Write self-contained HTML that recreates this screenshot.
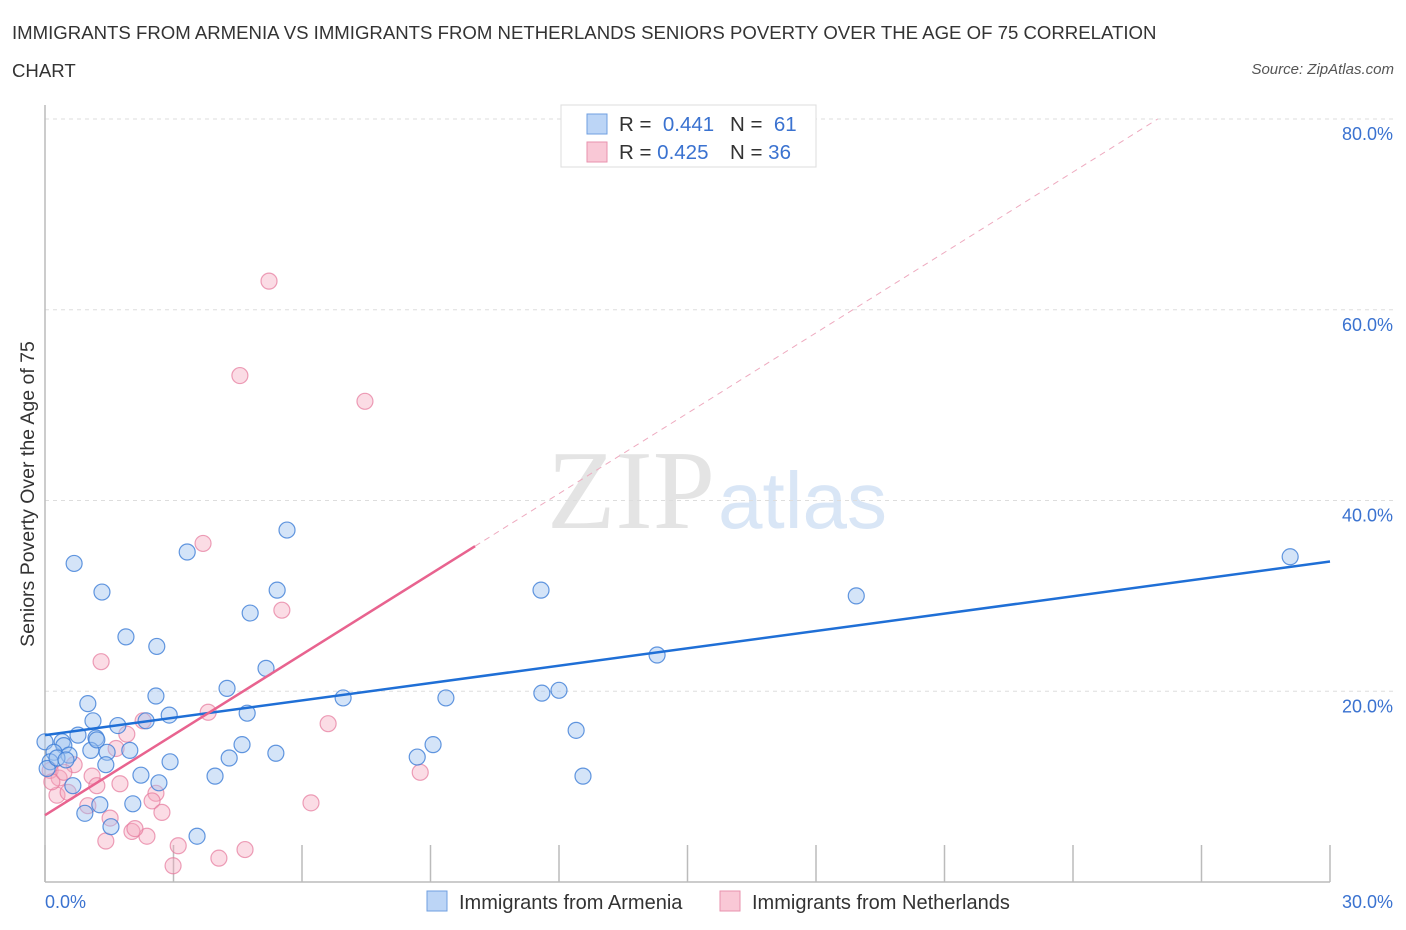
<!DOCTYPE html>
<html><head><meta charset="utf-8">
<style>
body{margin:0;background:#fff;font-family:"Liberation Sans",sans-serif;}
#wrap{position:relative;width:1406px;height:930px;overflow:hidden;}
.t{position:absolute;white-space:nowrap;}
</style></head>
<body>
<div id="wrap">
<div class="t" style="left:12px;top:14px;font-size:18.6px;color:#333;line-height:38px;width:1145px;white-space:normal;">IMMIGRANTS FROM ARMENIA VS IMMIGRANTS FROM NETHERLANDS SENIORS POVERTY OVER THE AGE OF 75 CORRELATION CHART</div>
<div class="t" style="right:12px;top:61px;font-size:15px;color:#555;font-style:italic;">Source: ZipAtlas.com</div>
<svg id="svg" width="1406" height="930" style="position:absolute;left:0;top:0"></svg>
</div>
<script>
const blueX=[0.68,1.33,3.32,5.65,5.42,4.79,1.89,2.61,5.16,4.25,2.59,1.00,2.90,4.72,1.12,2.36,1.70,0.77,1.19,0.0,0.40,1.98,1.45,1.07,0.44,0.21,0.56,0.12,4.60,4.30,5.39,2.92,1.42,2.24,3.97,0.65,1.28,2.05,0.93,1.54,3.55,2.66,6.96,9.36,8.69,9.06,11.58,11.60,12.00,12.40,12.56,14.29,18.94,29.07,0.05,0.28,0.49,1.21];
const blueY=[33.4,30.4,34.6,36.9,30.6,28.2,25.7,24.7,22.4,20.3,19.5,18.7,17.5,17.7,16.9,16.9,16.4,15.4,15.1,14.7,14.7,13.8,13.6,13.8,14.3,13.6,13.3,12.6,14.4,13.0,13.5,12.6,12.3,11.2,11.1,10.1,8.1,8.2,7.2,5.8,4.8,10.4,19.3,19.3,13.1,14.4,30.6,19.8,20.1,15.9,11.1,23.8,30.0,34.1,11.9,13.0,12.8,14.9];
const pinkX=[5.23,4.55,7.47,3.69,5.53,1.31,3.81,2.29,6.61,1.91,1.66,0.68,0.12,0.33,1.10,1.21,1.75,0.28,0.54,1.00,2.59,2.50,2.73,1.52,2.03,2.38,1.42,3.11,2.99,4.06,4.67,6.21,8.76,0.16,0.44,2.10];
const pinkY=[63.0,53.1,50.4,35.5,28.5,23.1,17.8,16.9,16.6,15.5,14.0,12.3,11.7,10.9,11.1,10.1,10.3,9.1,9.4,8.0,9.3,8.5,7.3,6.7,5.3,4.8,4.3,3.8,1.7,2.5,3.4,8.3,11.5,10.5,11.5,5.6];
const yTicks=[20,40,60,80];
const yTickLabels=["20.0%","40.0%","60.0%","80.0%"];
const xTicks=[0,3,6,9,12,15,18,21,24,27,30];
const blueTrend=[15.4,33.6]; // at x=0 and x=30
const pinkTrend=[7.0,2.81]; // intercept, slope

const X0=45,X1=1330,Y0=882,Y80=119;
const sx=v=>X0+(X1-X0)*v/30;
const sy=v=>Y0-(Y0-Y80)*v/80;
const svg=document.getElementById('svg');
const NS='http://www.w3.org/2000/svg';
function mk(tag,attrs,parent){const e=document.createElementNS(NS,tag);for(const k in attrs)e.setAttribute(k,attrs[k]);(parent||svg).appendChild(e);return e;}

// watermark
let wm=mk('text',{x:715,y:528,'font-size':112,'font-family':'Liberation Serif, serif',fill:'#e4e4e4','text-anchor':'end'});wm.textContent='ZIP';


let wm2=mk('text',{x:718,y:528,'font-size':80,'font-family':'Liberation Sans, sans-serif',fill:'#d9e6f6'});wm2.textContent='atlas';



// gridlines
yTicks.forEach((v,i)=>{
  const g=mk('line',{x1:X0,x2:1395,y1:sy(v),y2:sy(v),stroke:'#ddd','stroke-dasharray':'4,4'});
  
  
  const t=mk('text',{x:1393,y:sy(v)+21,'font-size':18,fill:'#3a72d0','text-anchor':'end','font-family':'Liberation Sans, sans-serif'});
  t.textContent=yTickLabels[i];
  
  
});
// axes
const ya=mk('line',{x1:X0,x2:X0,y1:105,y2:Y0,stroke:'#bbb','stroke-width':1.5});


const xa=mk('line',{x1:X0,x2:X1,y1:Y0,y2:Y0,stroke:'#bbb','stroke-width':1.5});


xTicks.forEach(v=>{
  const l=mk('line',{x1:sx(v),x2:sx(v),y1:845,y2:Y0,stroke:'#bbb','stroke-width':1.5});
  
  
});
// points
function dots(xs,ys,fill,stroke,name){
  xs.forEach((x,i)=>{
    const c=mk('circle',{cx:sx(x),cy:sy(ys[i]),r:8,fill:fill,stroke:stroke,'stroke-width':1.2});
    
    
  });
}
dots(pinkX,pinkY,'rgba(244,167,190,0.4)','rgba(230,120,155,0.7)','netherlands-point');
dots(blueX,blueY,'rgba(160,195,240,0.45)','rgba(60,125,215,0.8)','armenia-point');
// trend lines
const bt=mk('line',{x1:sx(0),y1:sy(blueTrend[0]),x2:sx(30),y2:sy(blueTrend[1]),stroke:'#1f6fd6','stroke-width':2.5});


const pEnd=10.04;
const pt=mk('line',{x1:sx(0),y1:sy(pinkTrend[0]),x2:sx(pEnd),y2:sy(pinkTrend[0]+pinkTrend[1]*pEnd),stroke:'#e8638f','stroke-width':2.5});


const xEnd=(80-pinkTrend[0])/pinkTrend[1];
const pd=mk('line',{x1:sx(pEnd),y1:sy(pinkTrend[0]+pinkTrend[1]*pEnd),x2:sx(xEnd),y2:sy(80),stroke:'#eeaabf','stroke-width':1,'stroke-dasharray':'6,5'});



// axis labels
const xl0=mk('text',{x:45,y:908,'font-size':18,fill:'#3a72d0','font-family':'Liberation Sans, sans-serif'});xl0.textContent='0.0%';


const xl1=mk('text',{x:1393,y:908,'font-size':18,fill:'#3a72d0','text-anchor':'end','font-family':'Liberation Sans, sans-serif'});xl1.textContent='30.0%';


const yt=mk('text',{x:0,y:0,'font-size':19.5,fill:'#333','text-anchor':'middle','font-family':'Liberation Sans, sans-serif',transform:'translate(34,494) rotate(-90)'});yt.textContent='Seniors Poverty Over the Age of 75';



// top legend
const lg=mk('rect',{x:561,y:105,width:255,height:62,fill:'#fff',stroke:'#ddd'});


function row(y,fill,stroke,r,n,name){
  const b=mk('rect',{x:587,y:y-10,width:20,height:20,fill:fill,stroke:stroke});
  
  
  const t=mk('text',{x:619,y:y+7,'font-size':20.5,fill:'#333','font-family':'Liberation Sans, sans-serif'});
  t.innerHTML='R = <tspan fill="#3a72d0">'+r+'</tspan><tspan x="730">N = </tspan><tspan fill="#3a72d0">'+n+'</tspan>';
  
  
}
row(124,'#bcd5f6','#6f9fe0','&#160;0.441','&#160;61','armenia');
row(152,'#f9c8d6','#e892ae','0.425','36','netherlands');

// bottom legend
function bl(x,fill,stroke,label,name){
  const b=mk('rect',{x:x,y:891,width:20,height:20,fill:fill,stroke:stroke});
  
  
  const t=mk('text',{x:x+32,y:909,'font-size':20,fill:'#333','font-family':'Liberation Sans, sans-serif'});t.textContent=label;
  
  
}
bl(427,'#bcd5f6','#6f9fe0','Immigrants from Armenia','armenia');
bl(720,'#f9c8d6','#e892ae','Immigrants from Netherlands','netherlands');
</script>
</body></html>
